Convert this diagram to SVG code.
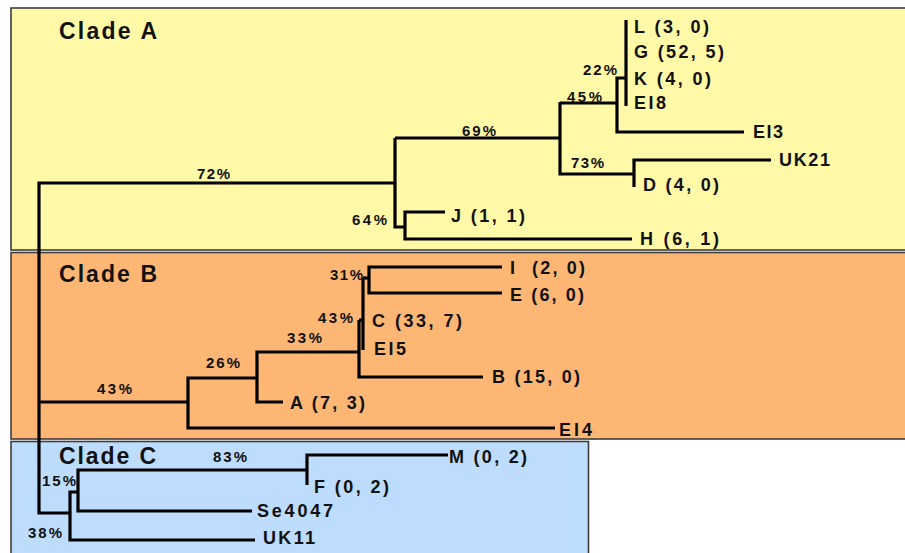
<svg xmlns="http://www.w3.org/2000/svg" width="905" height="553" viewBox="0 0 905 553">
<style>
.box{stroke:#3c3c3c;stroke-width:1.6}
.clade{font-family:"Liberation Sans",Arial,sans-serif;font-weight:bold;font-size:23px;fill:#111}
.leaf{font-family:"Liberation Sans",Arial,sans-serif;font-weight:bold;font-size:18px;fill:#111}
.pct{font-family:"Liberation Sans",Arial,sans-serif;font-weight:bold;font-size:15px;fill:#111}
.edge{fill:none;stroke:#000;stroke-width:3.2;stroke-linejoin:miter;stroke-linecap:butt}
</style>
<rect width="905" height="553" fill="#ffffff"/>
<g id="cladeA"><rect class="box" x="11" y="8" width="900" height="242" fill="#FFF9A8"/><text class="clade" x="59" y="39" textLength="98" lengthAdjust="spacing">Clade A</text></g>
<g id="cladeB"><rect class="box" x="11" y="252.5" width="900" height="186.5" fill="#FDB674"/><text class="clade" x="59" y="282" textLength="98" lengthAdjust="spacing">Clade B</text></g>
<g id="cladeC"><rect class="box" x="11" y="441.5" width="577.5" height="120" fill="#BEDCFD"/><text class="clade" x="59" y="464" textLength="97" lengthAdjust="spacing">Clade C</text></g>
<g id="connectors">
<path class="edge" d="M396,183 H39 V513 H70"/>
<path class="edge" d="M39,402 H188"/>
<path class="edge" d="M395,138 V227 H405"/>
<path class="edge" d="M445,212 H405 V239 H632"/>
<path class="edge" d="M395,138 H560"/>
<path class="edge" d="M560,103 H617"/>
<path class="edge" d="M560,102 V174 H634"/>
<path class="edge" d="M626,78 H617 V132 H744"/>
<path class="edge" d="M626,20 V106"/>
<path class="edge" d="M771,160 H634 V187"/>
<path class="edge" d="M257,378 H188 V428 H555"/>
<path class="edge" d="M283,402 H257 V352 H359"/>
<path class="edge" d="M359,320 V377 H483"/>
<path class="edge" d="M359,320 H363"/>
<path class="edge" d="M363,278 V350"/>
<path class="edge" d="M363,278 H369"/>
<path class="edge" d="M502,267 H369 V293 H502"/>
<path class="edge" d="M78,492 H70 V540 H255"/>
<path class="edge" d="M252,511 H78 V470 H307"/>
<path class="edge" d="M448,455 H307 V485"/>
</g>
<g id="leaves">
<g id="leaf-L"><text class="leaf" x="634" y="33" textLength="75" lengthAdjust="spacing">L (3, 0)</text></g>
<g id="leaf-G"><text class="leaf" x="634" y="58" textLength="90" lengthAdjust="spacing">G (52, 5)</text></g>
<g id="leaf-K"><text class="leaf" x="634" y="85" textLength="77" lengthAdjust="spacing">K (4, 0)</text></g>
<g id="leaf-EI8"><text class="leaf" x="634" y="109" textLength="32" lengthAdjust="spacing">EI8</text></g>
<g id="leaf-EI3"><text class="leaf" x="753" y="138" textLength="30" lengthAdjust="spacing">EI3</text></g>
<g id="leaf-UK21"><text class="leaf" x="779" y="166" textLength="51" lengthAdjust="spacing">UK21</text></g>
<g id="leaf-D"><text class="leaf" x="643" y="191" textLength="76" lengthAdjust="spacing">D (4, 0)</text></g>
<g id="leaf-J"><text class="leaf" x="451" y="222" textLength="74" lengthAdjust="spacing">J (1, 1)</text></g>
<g id="leaf-H"><text class="leaf" x="640" y="245" textLength="79" lengthAdjust="spacing">H (6, 1)</text></g>
<g id="leaf-I"><text class="leaf" y="274"><tspan x="510">I</tspan><tspan x="532" textLength="53" lengthAdjust="spacing">(2, 0)</tspan></text></g>
<g id="leaf-E"><text class="leaf" x="510" y="301" textLength="74" lengthAdjust="spacing">E (6, 0)</text></g>
<g id="leaf-C"><text class="leaf" x="372" y="327" textLength="90" lengthAdjust="spacing">C (33, 7)</text></g>
<g id="leaf-EI5"><text class="leaf" x="374" y="355" textLength="32" lengthAdjust="spacing">EI5</text></g>
<g id="leaf-B"><text class="leaf" x="492" y="383" textLength="88" lengthAdjust="spacing">B (15, 0)</text></g>
<g id="leaf-A"><text class="leaf" x="290" y="409" textLength="75" lengthAdjust="spacing">A (7, 3)</text></g>
<g id="leaf-EI4"><text class="leaf" x="559" y="436" textLength="33" lengthAdjust="spacing">EI4</text></g>
<g id="leaf-M"><text class="leaf" x="449" y="463" textLength="78" lengthAdjust="spacing">M (0, 2)</text></g>
<g id="leaf-F"><text class="leaf" x="314" y="493" textLength="75" lengthAdjust="spacing">F (0, 2)</text></g>
<g id="leaf-Se4047"><text class="leaf" x="257" y="517" textLength="76" lengthAdjust="spacing">Se4047</text></g>
<g id="leaf-UK11"><text class="leaf" x="263" y="544" textLength="52" lengthAdjust="spacing">UK11</text></g>
</g>
<g id="internal-nodes">
<g id="n22"><text class="pct" x="583" y="75" textLength="34" lengthAdjust="spacing">22%</text></g>
<g id="n45"><text class="pct" x="567" y="102" textLength="35" lengthAdjust="spacing">45%</text></g>
<g id="n73"><text class="pct" x="571" y="168" textLength="33" lengthAdjust="spacing">73%</text></g>
<g id="n69"><text class="pct" x="462" y="136" textLength="34" lengthAdjust="spacing">69%</text></g>
<g id="n72"><text class="pct" x="197" y="179" textLength="33" lengthAdjust="spacing">72%</text></g>
<g id="n64"><text class="pct" x="352" y="225" textLength="35" lengthAdjust="spacing">64%</text></g>
<g id="n31"><text class="pct" x="330" y="280" textLength="33" lengthAdjust="spacing">31%</text></g>
<g id="n43b"><text class="pct" x="318" y="323" textLength="35" lengthAdjust="spacing">43%</text></g>
<g id="n33"><text class="pct" x="287" y="343" textLength="35" lengthAdjust="spacing">33%</text></g>
<g id="n26"><text class="pct" x="206" y="368" textLength="34" lengthAdjust="spacing">26%</text></g>
<g id="n43a"><text class="pct" x="97" y="394" textLength="35" lengthAdjust="spacing">43%</text></g>
<g id="n83"><text class="pct" x="213" y="462" textLength="34" lengthAdjust="spacing">83%</text></g>
<g id="n15"><text class="pct" x="42" y="486" textLength="34" lengthAdjust="spacing">15%</text></g>
<g id="n38"><text class="pct" x="28" y="538" textLength="34" lengthAdjust="spacing">38%</text></g>
</g>
</svg>
